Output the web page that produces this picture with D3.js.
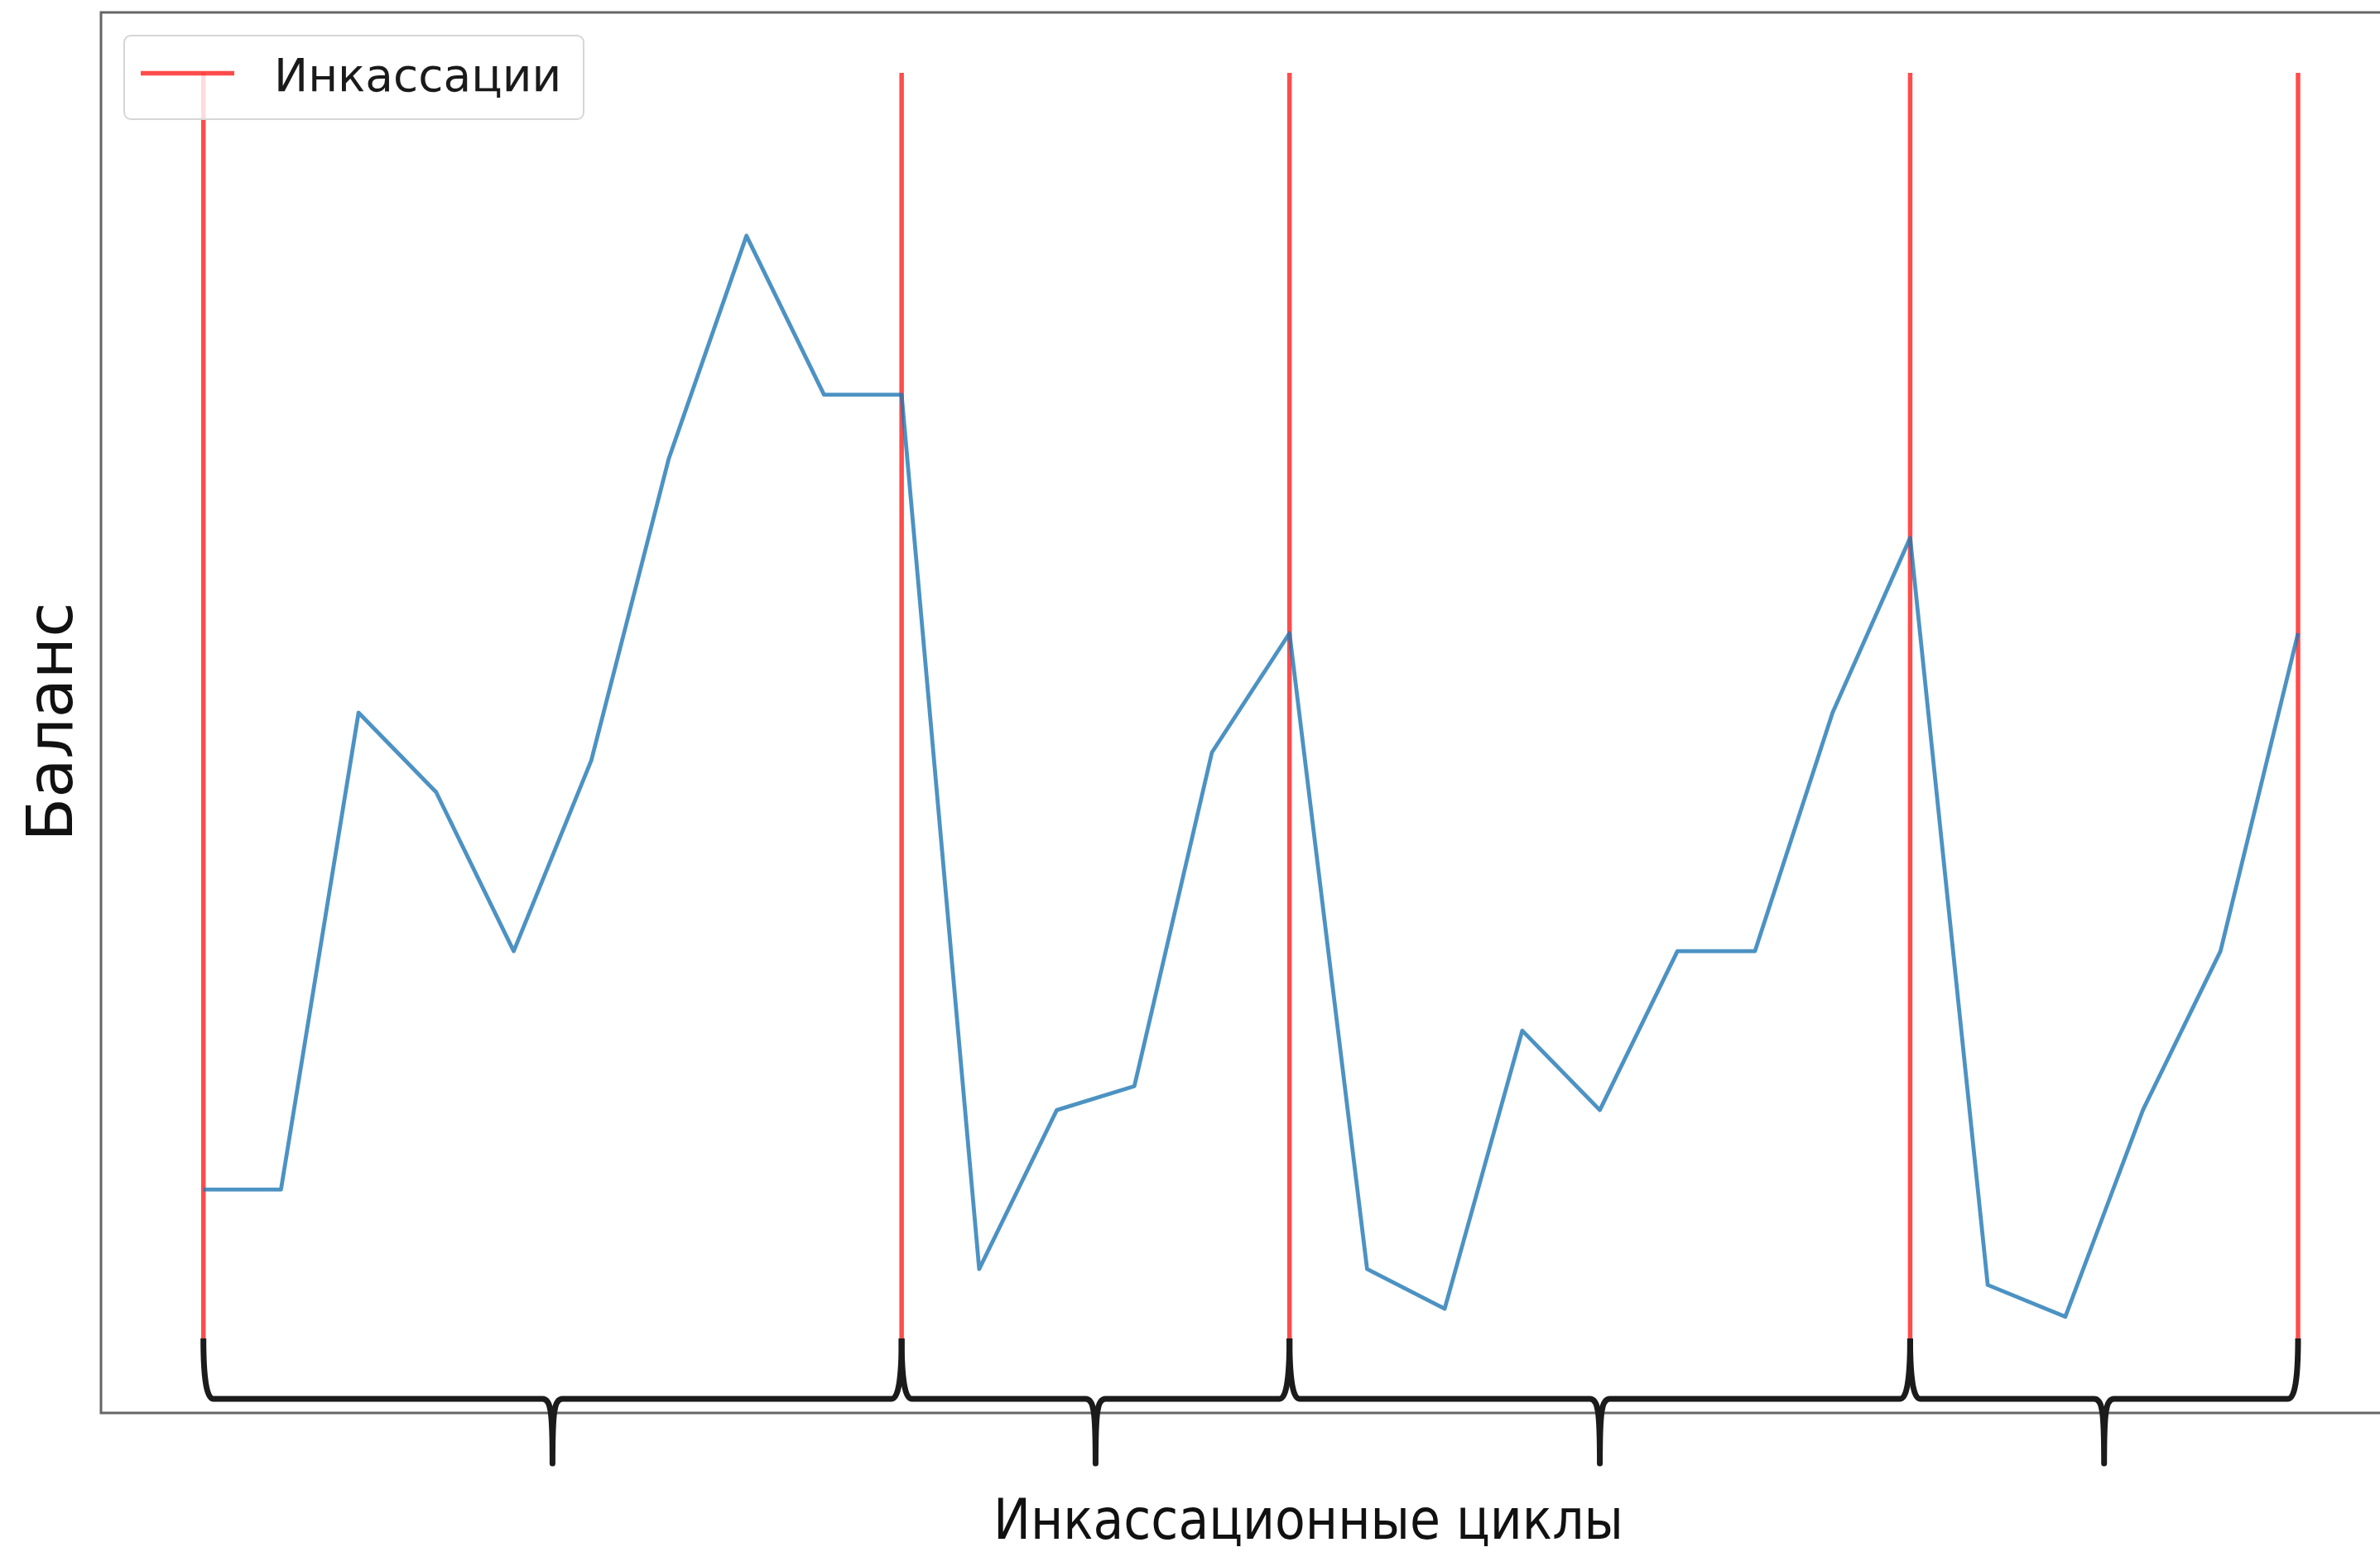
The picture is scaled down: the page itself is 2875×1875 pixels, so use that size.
<!DOCTYPE html>
<html><head><meta charset="utf-8">
<script src="https://cdn.jsdelivr.net/npm/d3@7/dist/d3.min.js"></script>
<style>html,body{margin:0;padding:0;background:#fff;} svg{display:block;}</style>
</head><body>
<svg id="chart" width="2875" height="1875"></svg>
<script>
// ---- data ----
const days = [0,1,2,3,4,5,6,7,8,9,10,11,12,13,14,15,16,17,18,19,20,21,22,23,24,25,26,27];
const balance = [100,100,160,150,130,154,192,220,200,200,90,110,113,155,170,90,85,120,110,130,130,160,182,88,84,110,130,170];
const collectionDays = [0,9,14,22,27];
const legendLabel = "Инкассации";
const yLabel = "Баланс";
const xLabel = "Инкассационные циклы";

// ---- layout ----
const svg = d3.select("#chart");
const x = d3.scaleLinear().domain([0, 27]).range([245.7, 2776]);
const y = d3.scaleLinear().domain([71.9, 248.1]).range([1707, 15]);
const frameLeft = x(-1.32), frameTop = y(248.1), frameBottom = y(71.9);
const vTop = 88, vBottom = 1625;
const yBraceTop = 1617, yBar = 1690, yTip = 1768;

svg.append("rect").attr("width", 2875).attr("height", 1875).attr("fill", "#fff");

// frame
svg.append("rect")
  .attr("x", frameLeft).attr("y", frameTop)
  .attr("width", 2900 - frameLeft).attr("height", frameBottom - frameTop)
  .attr("fill", "none").attr("stroke", "#666").attr("stroke-width", 3);

// collection lines
svg.append("g").selectAll("line").data(collectionDays).join("line")
  .attr("x1", d => x(d)).attr("x2", d => x(d))
  .attr("y1", vTop).attr("y2", vBottom)
  .attr("stroke", "#ff0000").attr("stroke-opacity", 0.7).attr("stroke-width", 5.5);

// balance line
svg.append("path")
  .datum(days.map((d, i) => [d, balance[i]]))
  .attr("d", d3.line().x(d => x(d[0])).y(d => y(d[1])))
  .attr("fill", "none").attr("stroke", "#1f77b4").attr("stroke-opacity", 0.8)
  .attr("stroke-width", 4.8).attr("stroke-linejoin", "round");

// braces
function brace(xa, xb) {
  const xm = (xa + xb) / 2, r = 12;
  return `M${xa},${yBraceTop} Q${xa},${yBar} ${xa + r},${yBar} L${xm - r},${yBar} ` +
         `C${xm - 2},${yBar} ${xm},${yBar + 15} ${xm},${yTip} ` +
         `C${xm},${yBar + 15} ${xm + 2},${yBar} ${xm + r},${yBar} ` +
         `L${xb - r},${yBar} Q${xb},${yBar} ${xb},${yBraceTop}`;
}
const cycles = d3.pairs(collectionDays);
svg.append("g").selectAll("path").data(cycles).join("path")
  .attr("d", d => brace(x(d[0]), x(d[1])))
  .attr("fill", "none").attr("stroke", "#1b1b1b").attr("stroke-width", 7)
  .attr("stroke-linejoin", "round").attr("stroke-linecap", "butt");

// legend
const lg = svg.append("g");
lg.append("rect").attr("x", 150).attr("y", 43).attr("width", 555).attr("height", 101).attr("rx", 8)
  .attr("fill", "#fff").attr("fill-opacity", 0.8).attr("stroke", "#d6d6d6").attr("stroke-width", 2);
lg.append("line").attr("x1", 170).attr("x2", 283).attr("y1", 88.5).attr("y2", 88.5)
  .attr("stroke", "#ff0000").attr("stroke-opacity", 0.7).attr("stroke-width", 5.5);
lg.append("text").attr("x", 331).attr("y", 110).text(legendLabel)
  .attr("font-family", "DejaVu Sans").attr("font-size", 55).attr("fill", "#1a1a1a");

// y label
svg.append("text").attr("transform", "translate(87,872) rotate(-90)")
  .attr("text-anchor", "middle").text(yLabel)
  .attr("font-family", "DejaVu Sans").attr("font-size", 77).attr("fill", "#111");

// x label
svg.append("text").attr("x", 1200).attr("y", 1859).text(xLabel)
  .attr("font-family", "'Liberation Sans Narrow', 'DejaVu Sans Condensed', sans-serif")
  .attr("font-size", 68).attr("fill", "#111")
  .attr("textLength", 761).attr("lengthAdjust", "spacingAndGlyphs");
</script>
</body></html>
